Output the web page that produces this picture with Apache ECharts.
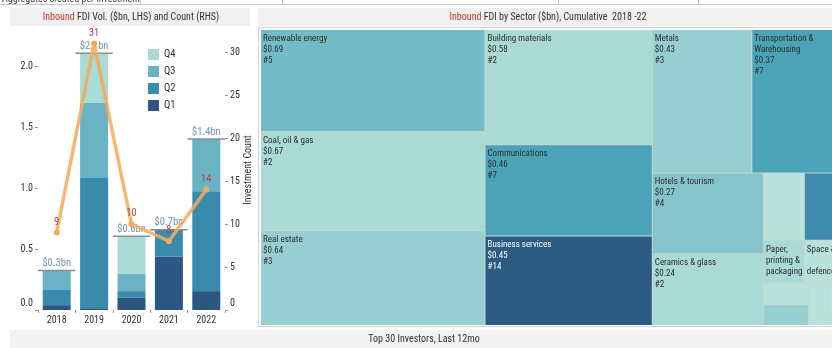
<!DOCTYPE html>
<html><head><meta charset="utf-8">
<script src="https://cdn.jsdelivr.net/npm/echarts@6/dist/echarts.min.js"></script>
<style>html,body{margin:0;padding:0;background:#fff}#c{width:832px;height:348px}</style>
</head><body><div id="c"></div>
<script>
// ---------- data: left chart ----------
const years = ['2018', '2019', '2020', '2021', '2022'];
const q1 = [0.04, 0.015, 0.10, 0.44, 0.155];
const q2 = [0.13, 1.075, 0.055, 0.22, 0.82];
const q3 = [0.155, 0.61, 0.14, 0, 0.43];
const q4 = [0, 0.41, 0.31, 0, 0];
const investmentCounts = [9, 31, 10, 8, 14];
const leftTicks = [0, 0.5, 1.0, 1.5, 2.0];
const rightTicks = [0, 5, 10, 15, 20, 25, 30];

// ---------- data: treemap ----------
const sectors = ['Renewable energy', 'Coal, oil & gas', 'Real estate', 'Building materials',
  'Communications', 'Business services', 'Metals', 'Transportation & Warehousing',
  'Hotels & tourism', 'Ceramics & glass', 'Consumer products', 'Software & IT services',
  'Paper, printing & packaging', 'Space & defence', 'Industrial equipment', 'Financial services',
  'Automotive components', 'Chemicals', 'Healthcare', 'Beverages'];
const sectorValues = [0.69, 0.67, 0.64, 0.58, 0.46, 0.45, 0.43, 0.37, 0.27, 0.24,
  0.083, 0.067, 0.053, 0.043, 0.029, 0.028, 0.018, 0.010, 0.005, 0.004];
const sectorCounts = [5, 2, 3, 2, 7, 14, 3, 7, 4, 2, 1, 10, 2, 1, 1, 3, 1, 1, 1, 1];
const unlabelledSectors = ['Consumer products', 'Software & IT services', 'Industrial equipment',
  'Financial services', 'Automotive components', 'Chemicals', 'Healthcare', 'Beverages'];

// ---------- styling helpers ----------
const FONT = "'Liberation Sans Narrow', 'Arial Narrow', 'Roboto Condensed', 'Open Sans', sans-serif";
const quarterColors = { Q1: '#2b5782', Q2: '#3a8bab', Q3: '#69b3c4', Q4: '#a9dcd4' };
const countStops = [[1, '#b9e3da'], [2, '#a9dad5'], [3, '#96ced1'], [4, '#86c4cc'],
  [5, '#72bcc7'], [7, '#4ba3b7'], [10, '#3d8bad'], [14, '#2b5a82']];
function hexToRgb(h) { return [1, 3, 5].map(i => parseInt(h.substr(i, 2), 16)); }
function countColor(c) {
  for (let i = 0; i < countStops.length - 1; i++) {
    const [c0, h0] = countStops[i], [c1, h1] = countStops[i + 1];
    if (c <= c1) {
      const t = Math.max(0, (c - c0) / (c1 - c0));
      const a = hexToRgb(h0), b = hexToRgb(h1);
      return 'rgb(' + a.map((v, k) => Math.round(v + (b[k] - v) * t)).join(',') + ')';
    }
  }
  return countStops[countStops.length - 1][1];
}

const totals = years.map((y, i) => q1[i] + q2[i] + q3[i] + q4[i]);

const chart = echarts.init(document.getElementById('c'), null, { renderer: 'canvas' });

const barSeries = [['Q1', q1], ['Q2', q2], ['Q3', q3], ['Q4', q4]].map(([name, arr]) => ({
  name, type: 'bar', stack: 'vol', data: arr, barWidth: 28,
  itemStyle: { color: quarterColors[name] }, xAxisIndex: 0, yAxisIndex: 0, z: 2
}));

const treeData = sectors.map((s, i) => ({
  name: s, value: sectorValues[i], count: sectorCounts[i],
  itemStyle: { color: countColor(sectorCounts[i]) },
  label: { show: unlabelledSectors.indexOf(s) < 0, color: sectorCounts[i] >= 10 ? '#ffffff' : '#2e2e2e' }
}));

const option = {
  animation: false,
  backgroundColor: '#ffffff',
  textStyle: { fontFamily: FONT },
  graphic: [
    // top strip (cut off)
    { type: 'text', left: 2, top: -6, style: { text: 'Aggregates created per investment', font: '10px ' + FONT, fill: '#444' } },
    { type: 'line', shape: { x1: 0, y1: 4.5, x2: 832, y2: 4.5 }, style: { stroke: '#c8c8c8', lineWidth: 1 } },
    { type: 'line', shape: { x1: 140.5, y1: 0, x2: 140.5, y2: 4.5 }, style: { stroke: '#c8c8c8', lineWidth: 1 } },
    { type: 'line', shape: { x1: 282.5, y1: 0, x2: 282.5, y2: 4.5 }, style: { stroke: '#c8c8c8', lineWidth: 1 } },
    { type: 'line', shape: { x1: 558.5, y1: 0, x2: 558.5, y2: 4.5 }, style: { stroke: '#c8c8c8', lineWidth: 1 } },
    { type: 'line', shape: { x1: 698.5, y1: 0, x2: 698.5, y2: 4.5 }, style: { stroke: '#c8c8c8', lineWidth: 1 } },
    // left title band
    { type: 'rect', shape: { x: 10, y: 8, width: 240, height: 18 }, style: { fill: '#f0f0f0' }, z: -1 },
    { type: 'text', x: 131, y: 17, style: { text: '{r|Inbound} FDI Vol. ($bn, LHS) and Count (RHS)', align: 'center', verticalAlign: 'middle',
      font: '10px ' + FONT, fill: '#333', rich: { r: { fill: '#c0392b', font: '10px ' + FONT } } } },
    // right title band
    { type: 'rect', shape: { x: 258, y: 8, width: 574, height: 18 }, style: { fill: '#f0f0f0' }, z: -1 },
    { type: 'text', x: 548, y: 17, style: { text: '{r|Inbound} FDI by Sector ($bn), Cumulative  2018 -22', align: 'center', verticalAlign: 'middle',
      font: '10px ' + FONT, fill: '#333', rich: { r: { fill: '#c0392b', font: '10px ' + FONT } } } },
    // panel borders
    { type: 'line', shape: { x1: 258, y1: 27.5, x2: 832, y2: 27.5 }, style: { stroke: '#d0d0d0', lineWidth: 1 } },
    { type: 'line', shape: { x1: 258.5, y1: 27.5, x2: 258.5, y2: 327 }, style: { stroke: '#d0d0d0', lineWidth: 1 } },
    { type: 'line', shape: { x1: 258, y1: 326.5, x2: 832, y2: 326.5 }, style: { stroke: '#d0d0d0', lineWidth: 1 } },
    // bottom band
    { type: 'rect', shape: { x: 10, y: 330, width: 822, height: 18 }, style: { fill: '#f2f2f2' }, z: -1 },
    { type: 'text', x: 424, y: 339, style: { text: 'Top 30 Investors, Last 12mo', align: 'center', verticalAlign: 'middle', font: '10px ' + FONT, fill: '#333' } }
  ],
  legend: {
    data: ['Q4', 'Q3', 'Q2', 'Q1'], orient: 'vertical', left: 143, top: 44,
    itemWidth: 11, itemHeight: 11, itemGap: 6, icon: 'rect', selectedMode: false,
    textStyle: { fontSize: 10.5, color: '#333', lineHeight: 11, fontFamily: FONT }
  },
  grid: { left: 38, right: 607, top: 30, bottom: 38, containLabel: false },
  xAxis: {
    type: 'category', data: years,
    axisLine: { show: false },
    axisTick: { show: true, length: 3, lineStyle: { color: '#999' } },
    axisLabel: { color: '#333', fontSize: 10, margin: 5, fontFamily: FONT }
  },
  yAxis: [
    {
      type: 'value', min: 0, max: 2.3, interval: 0.5, position: 'left',
      axisLine: { show: false }, splitLine: { show: false },
      axisTick: { show: true, length: 3, lineStyle: { color: '#999' }, customValues: leftTicks },
      axisLabel: {
        customValues: leftTicks, color: '#333', fontSize: 10, margin: 5, fontFamily: FONT,
        formatter: v => v === 0 ? '{z|0.0}' : v.toFixed(1),
        rich: { z: { padding: [0, 0, 13, 0], fontSize: 10, fontFamily: FONT, color: '#333' } }
      }
    },
    {
      type: 'value', min: 0, max: 32.56, interval: 5, position: 'right',
      name: 'Investment Count', nameLocation: 'middle', nameGap: 17, nameRotate: 90,
      nameTextStyle: { fontSize: 10, color: '#333', fontFamily: FONT },
      axisLine: { show: false }, splitLine: { show: false },
      axisTick: { show: true, length: 3, lineStyle: { color: '#999' }, customValues: rightTicks },
      axisLabel: {
        customValues: rightTicks, color: '#333', fontSize: 10, margin: 5, fontFamily: FONT,
        formatter: v => v === 0 ? '{z|0}' : String(v),
        rich: { z: { padding: [0, 0, 13, 0], fontSize: 10, fontFamily: FONT, color: '#333' } }
      }
    }
  ],
  series: [
    ...barSeries,
    {
      type: 'custom', name: 'Total', xAxisIndex: 0, yAxisIndex: 0, z: 4,
      data: totals.map((t, i) => [i, t]),
      renderItem: (params, api) => {
        const p = api.coord([api.value(0), api.value(1)]);
        const bw = api.size([1, 0])[0];
        const label = '$' + api.value(1).toFixed(1) + 'bn';
        return {
          type: 'group', children: [
            { type: 'line', shape: { x1: p[0] - bw / 2, y1: p[1], x2: p[0] + bw / 2, y2: p[1] }, style: { stroke: '#8c8c8c', lineWidth: 1.5 } },
            { type: 'text', style: { text: label, x: p[0], y: p[1] - 1.5, align: 'center', verticalAlign: 'bottom', fill: '#7491b3', font: '10.5px ' + FONT } }
          ]
        };
      }
    },
    {
      type: 'line', name: 'Count', xAxisIndex: 0, yAxisIndex: 1, z: 5,
      data: investmentCounts,
      lineStyle: { color: '#f6a95c', width: 3.5, opacity: 0.85 },
      itemStyle: { color: '#f6a95c' },
      symbol: 'circle', symbolSize: 6, showSymbol: true,
      label: { show: true, position: 'top', distance: 2, color: '#b5404f', fontSize: 10.5, fontFamily: FONT }
    },
    {
      type: 'treemap', left: 261, top: 30, width: 576, height: 295,
      roam: false, nodeClick: false, breadcrumb: { show: false },
      sort: 'desc', visibleMin: 0, childrenVisibleMin: 0,
      itemStyle: { borderColor: '#c9d4d4', borderWidth: 0, gapWidth: 1 },
      levels: [{ itemStyle: { borderColor: '#c9d4d4', borderWidth: 0, gapWidth: 1 } }],
      label: {
        show: true, position: 'insideTopLeft', padding: [3, 1, 2, 2],
        fontSize: 9, lineHeight: 11, fontFamily: FONT, color: '#2e2e2e',
        overflow: 'break', lineOverflow: 'truncate',
        formatter: p => p.name + '\n$' + p.value.toFixed(2) + '\n#' + p.data.count
      },
      upperLabel: { show: false },
      data: treeData
    }
  ]
};
chart.setOption(option);
</script>
</body></html>
